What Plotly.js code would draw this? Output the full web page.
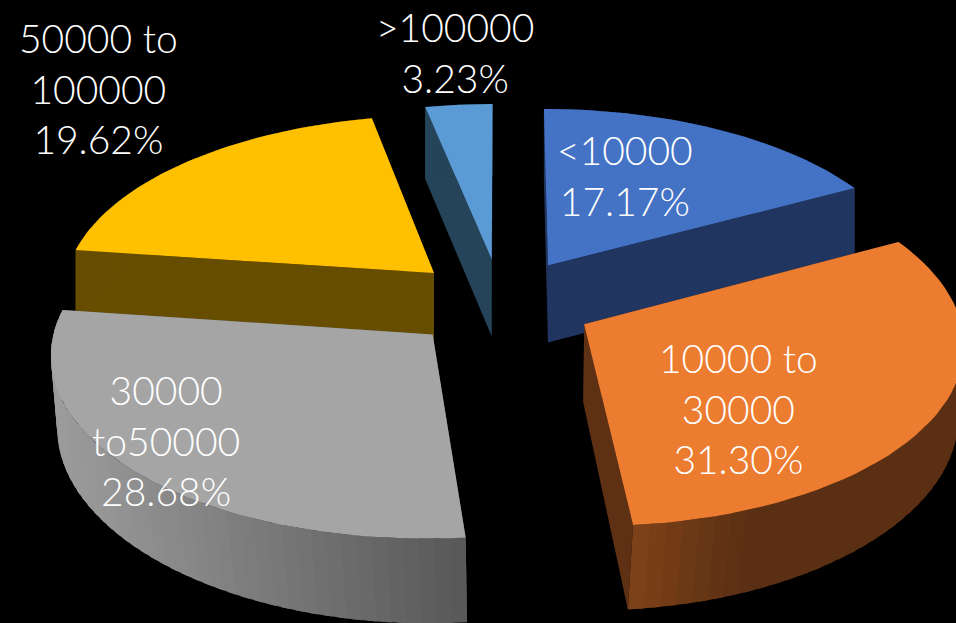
<!DOCTYPE html>
<html>
<head>
<meta charset="utf-8">
<script src="https://cdn.plot.ly/plotly-3.0.1.min.js"></script>
<style>html,body{margin:0;padding:0;background:#000;overflow:hidden}#chart{width:956px;height:623px}</style>
</head>
<body>
<div id="chart"></div>
<script>
// Income bands and their shares, clockwise from twelve o'clock.
const bandLabels = ['<10000', '10000 to<br>30000', '30000<br>to50000', '50000 to<br>100000', '>100000'];
const bandShares = [17.17, 31.30, 28.68, 19.62, 3.23];

// Slice colours: top face, flat wall, rim at its left and right ends.
const topColors  = ['#4472C4', '#EC7C30', '#A5A5A5', '#FFC000', '#5B9BD5'];
const wallColors = ['#203560', '#5E3115', '#5A5A5A', '#664D00', '#254459'];
const rimLeft    = ['#203560', '#7C4118', '#9C9C9C', '#664D00', '#254459'];
const rimRight   = ['#203560', '#5A2F13', '#565656', '#664D00', '#254459'];

// Label centres on the page, by band.
const labelX = [625, 738, 166, 98, 455];
const labelY = [175, 408, 440, 88, 52];

// Tilted-disc camera: plane coordinates (radius 1) to page pixels.
const CX = 501, CY = 303, SCALE_X = 373, SCALE_Y = 178.3, PERSP = 0.0955;
const EXPLODE = 0.25, DEPTH = 78, BASE_SHRINK = 0.03;

function topPoint(px, py) {
  const s = 1 / (1 - PERSP * py);
  return [CX + SCALE_X * px * s, CY + SCALE_Y * py * s];
}
function basePoint(px, py) {
  const s = 1 / (1 - PERSP * py);
  const t = topPoint(px, py);
  // The lower edge pulls inward only on the side nearest the viewer.
  const shrink = 1 - BASE_SHRINK * Math.max(0, py + 0.2);
  return [CX + (t[0] - CX) * shrink, t[1] + DEPTH * Math.pow(s, 0.7)];
}
function hexMix(a, b, t) {
  const ch = (h, i) => parseInt(h.substr(1 + 2 * i, 2), 16);
  const out = [0, 1, 2].map(i => Math.round(ch(a, i) + (ch(b, i) - ch(a, i)) * t));
  return 'rgb(' + out.join(',') + ')';
}
function polygon(points, color, lineWidth) {
  return {
    type: 'scatter', mode: 'lines', fill: 'toself', fillcolor: color,
    x: points.map(p => p[0]), y: points.map(p => p[1]),
    line: {color: color, width: lineWidth}, hoverinfo: 'skip', showlegend: false
  };
}

// Turn the shares into angular spans.
const total = bandShares.reduce((a, b) => a + b, 0);
let running = 0;
const slices = bandShares.map((v, i) => {
  const start = running / total * 2 * Math.PI;
  running += v;
  return {i, start, end: running / total * 2 * Math.PI};
});

// Far slices are painted first so the near ones overlap them.
const paintOrder = [4, 0, 3, 2, 1];
const traces = [];
const STEPS = 48;

paintOrder.forEach(idx => {
  const sl = slices[idx];
  const mid = (sl.start + sl.end) / 2;
  const ox = EXPLODE * Math.sin(mid), oy = -EXPLODE * Math.cos(mid);
  const rimAt = a => [ox + Math.sin(a), oy - Math.cos(a)];
  const stepAngle = (sl.end - sl.start) / STEPS;

  // Radial walls on both cut edges.
  [sl.start, sl.end].forEach(a => {
    const r = rimAt(a);
    traces.push(polygon([topPoint(ox, oy), topPoint(r[0], r[1]), basePoint(r[0], r[1]), basePoint(ox, oy), topPoint(ox, oy)], wallColors[idx], 0));
  });

  // Curved outer wall, in narrow strips shaded across the slice.
  // Each strip runs a little past the next so no seams show between them.
  const xs = [];
  for (let k = 0; k <= STEPS; k++) xs.push(topPoint(...rimAt(sl.start + stepAngle * k))[0]);
  const minX = Math.min(...xs), maxX = Math.max(...xs);
  const fadeSpan = idx === 1 ? 110 : maxX - minX;
  for (let k = 0; k < STEPS; k++) {
    const a0 = sl.start + stepAngle * k;
    const a1 = Math.min(sl.end, a0 + stepAngle * 1.6);
    const ring = [];
    for (let n = 0; n <= 3; n++) ring.push(rimAt(a0 + (a1 - a0) * n / 3));
    const outline = ring.map(p => topPoint(...p)).concat(ring.slice().reverse().map(p => basePoint(...p)));
    outline.push(outline[0]);
    const t = Math.min(1, (Math.min(xs[k], xs[k + 1]) - minX) / fadeSpan);
    traces.push(polygon(outline, hexMix(rimLeft[idx], rimRight[idx], t), 0));
  }

  // Top face.
  const face = [topPoint(ox, oy)];
  for (let k = 0; k <= STEPS; k++) face.push(topPoint(...rimAt(sl.start + stepAngle * k)));
  face.push(topPoint(ox, oy));
  traces.push(polygon(face, topColors[idx], 0));
});

const annotations = bandLabels.map((label, i) => ({
  x: labelX[i], y: labelY[i], xref: 'x', yref: 'y',
  xanchor: 'center', yanchor: 'middle', align: 'center', showarrow: false,
  text: label + '<br>' + bandShares[i].toFixed(2) + '%',
  font: {family: 'Lato, "Open Sans", sans-serif', size: 39, color: '#FFFFFF', weight: 300}
}));

const hiddenAxis = {visible: false, fixedrange: true, showgrid: false, zeroline: false};
Plotly.newPlot('chart', traces, {
  width: 956, height: 623,
  margin: {l: 0, r: 0, t: 0, b: 0},
  paper_bgcolor: '#000000', plot_bgcolor: '#000000',
  showlegend: false,
  xaxis: Object.assign({range: [0, 956]}, hiddenAxis),
  yaxis: Object.assign({range: [623, 0]}, hiddenAxis),
  annotations: annotations
}, {displayModeBar: false, staticPlot: true});
</script>
</body>
</html>
